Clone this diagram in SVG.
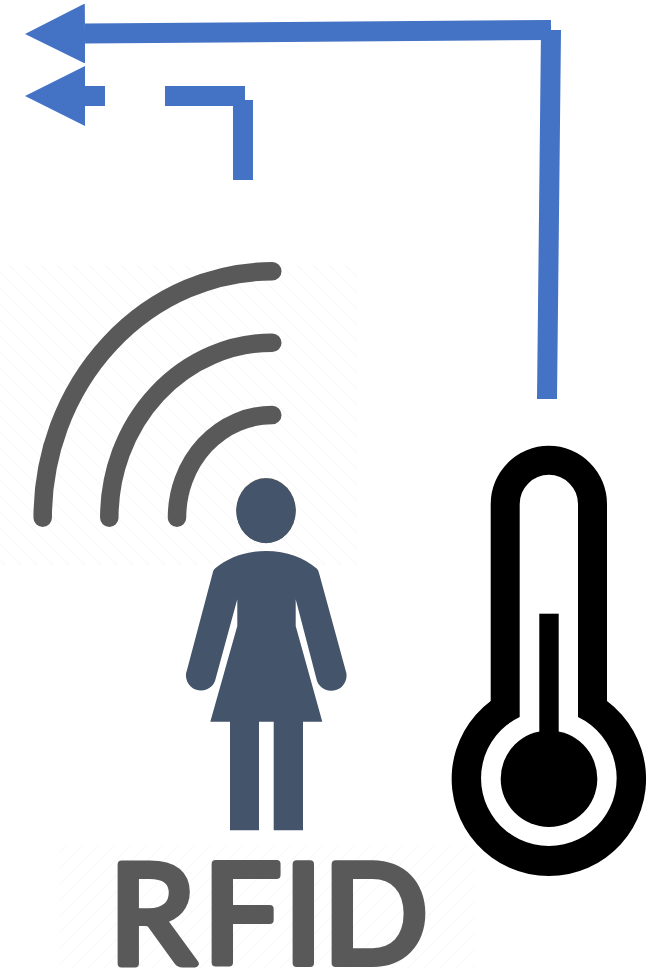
<svg xmlns="http://www.w3.org/2000/svg" width="662" height="972" viewBox="0 0 662 972">
  <style>
    .conn { fill: none; stroke: #4472c4; stroke-width: 20; stroke-linecap: butt; }
    .arc { fill: none; stroke: #595959; stroke-width: 18.5; stroke-linecap: round; }
    .person { fill: #44546a; }
    .rfid { font-family: "Lato", "Liberation Sans", Arial, sans-serif; font-size: 138px; fill: #595959; stroke: #595959; stroke-width: 8; stroke-linejoin: round; stroke-linecap: round; }
  </style>
  <defs>
    <marker id="head" markerUnits="userSpaceOnUse" markerWidth="60" markerHeight="60" viewBox="0 0 60 60" refX="0" refY="30" orient="auto">
      <path d="M0 0L60 30L0 60Z" fill="#4472c4"/>
    </marker>
    <pattern id="hatchA" width="16" height="16" patternUnits="userSpaceOnUse">
      <path d="M0 0L16 16M-8 8L8 24M8 -8L24 8" stroke="#fbfbfb" stroke-width="2" fill="none"/>
    </pattern>
    <pattern id="hatchB" width="16" height="16" patternUnits="userSpaceOnUse">
      <path d="M16 0L0 16M8 -8L-8 8M24 8L8 24" stroke="#fbfbfb" stroke-width="2" fill="none"/>
    </pattern>
  </defs>
  <rect width="662" height="972" fill="#ffffff"/>
  <rect x="0" y="265" width="357" height="300" fill="url(#hatchA)"/>
  <rect x="60" y="845" width="415" height="123" fill="url(#hatchB)"/>

  <g id="rfid-waves">
    <path class="arc" d="M42.7 517.7A229.6 246.4 0 0 1 272.3 271.3"/>
    <path class="arc" d="M109.3 517.7A163 175 0 0 1 272.3 342.7"/>
    <path class="arc" d="M177 517.7A95.3 102.7 0 0 1 272.3 415"/>
  </g>

  <g id="person">
    <ellipse cx="266" cy="510.5" rx="29.7" ry="32.5" fill="#595959"/>
    <ellipse class="person" cx="266" cy="511" rx="29.7" ry="32.3"/>
    <path class="person" d="M266 551C245 551 228 558 215 568.5Q213 570 212.7 573L187 670A15 15 0 1 0 215 681L237.3 599.3V626L210.3 721.7H230V830.3H259V721.7H273.7V830.3H303V721.7H322.3L295.7 626V599.3L317 681A15 15 0 1 0 345.5 670L319 573Q318.5 570 316.7 568.5C304 558 287 551 266 551Z"/>
  </g>

  <g id="thermometer">
    <path d="M490.7 701V504A58.15 58.15 0 0 1 607 504V701A97.2 97.2 0 1 1 490.7 701Z" fill="#000000"/>
    <path d="M519.7 717V504A29.15 29.15 0 0 1 578 504V717A67.8 67.8 0 1 1 519.7 717Z" fill="#ffffff"/>
    <circle cx="549" cy="778.7" r="48.3" fill="#000000"/>
    <rect x="539.3" y="613.7" width="19.4" height="125" fill="#000000"/>
  </g>

  <g id="rfid-label">
    <text class="rfid" x="109 203 284 323" y="963">RFID</text>
  </g>

  <g id="connectors">
    <path class="conn" d="M551 30L85 33.5" marker-end="url(#head)"/>
    <path class="conn" d="M551 30H561L557 399H537L541 30Z" style="fill:#4472c4;stroke:none"/>
    <path class="conn" d="M105 96H85" marker-end="url(#head)"/>
    <path class="conn" d="M245 96H165"/>
    <path class="conn" d="M243 100V180"/>
  </g>
</svg>
